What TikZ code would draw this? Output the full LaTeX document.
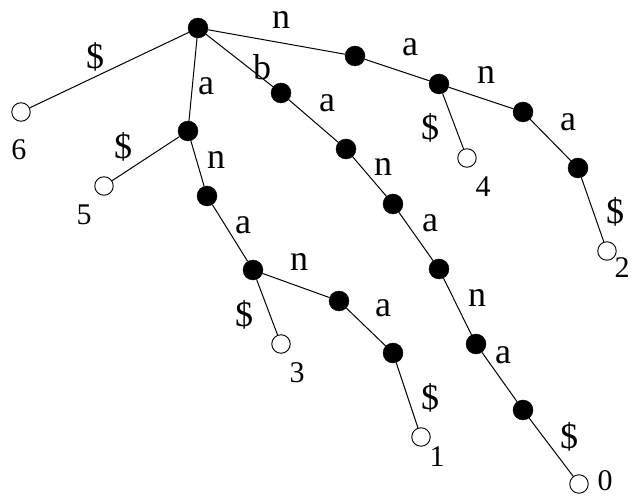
\documentclass[tikz,border=0pt]{standalone}
\usepackage{fontspec}
\setmainfont{Liberation Serif}
\usetikzlibrary{positioning}

\begin{document}
\begin{tikzpicture}[x=1pt, y=-1pt,
  inner/.style={circle, draw, fill=black, minimum size=20pt, inner sep=0pt},
  leaf/.style={circle, draw, fill=white, line width=0.9pt, minimum size=18.5pt, inner sep=0pt},
  edge/.style={line width=1pt},
  sym/.style={font=\fontsize{36}{38}\selectfont, inner sep=0pt},
  idx/.style={font=\fontsize{30}{32}\selectfont, inner sep=0pt},
]
\useasboundingbox (0,0) rectangle (633,497);

% trie nodes
\node[inner] (root) at (198,28) {};
\node[leaf] (l6) at (21,112) {};
\node[inner] (n) at (355,56) {};
\node[inner] (na) at (439,84) {};
\node[inner] (nan) at (523,112) {};
\node[inner] (nana) at (578,168) {};
\node[leaf] (l2) at (607,251) {};
\node[leaf] (l4) at (467,158) {};
\node[inner] (a) at (188,131) {};
\node[leaf] (l5) at (104,186) {};
\node[inner] (an) at (207,196) {};
\node[inner] (ana) at (253,270) {};
\node[inner] (anan) at (339,301) {};
\node[inner] (anana) at (393,353) {};
\node[leaf] (l1) at (421,437) {};
\node[leaf] (l3) at (281,344) {};
\node[inner] (b) at (281,93) {};
\node[inner] (ba) at (346,149) {};
\node[inner] (ban) at (393,204) {};
\node[inner] (bana) at (439,269) {};
\node[inner] (banan) at (476,344) {};
\node[inner] (banana) at (523,410) {};
\node[leaf] (l0) at (579,484) {};

% edges
\draw[edge] (root) -- (l6);
\draw[edge] (root) -- (n);
\draw[edge] (n) -- (na);
\draw[edge] (na) -- (nan);
\draw[edge] (nan) -- (nana);
\draw[edge] (nana) -- (l2);
\draw[edge] (na) -- (l4);
\draw[edge] (root) -- (a);
\draw[edge] (a) -- (l5);
\draw[edge] (a) -- (an);
\draw[edge] (an) -- (ana);
\draw[edge] (ana) -- (anan);
\draw[edge] (anan) -- (anana);
\draw[edge] (anana) -- (l1);
\draw[edge] (ana) -- (l3);
\draw[edge] (root) -- (b);
\draw[edge] (b) -- (ba);
\draw[edge] (ba) -- (ban);
\draw[edge] (ban) -- (bana);
\draw[edge] (bana) -- (banan);
\draw[edge] (banan) -- (banana);
\draw[edge] (banana) -- (l0);

% edge letters
\node[sym] (s6) at (95,57) {\$};
\node[sym] (sn) at (281,20) {n};
\node[sym] (sna) at (410,47) {a};
\node[sym] (snan) at (486,75) {n};
\node[sym] (snana) at (568,122) {a};
\node[sym] (s2) at (615,212) {\$};
\node[sym] (s4) at (430,128) {\$};
\node[sym] (sa) at (206,86) {a};
\node[sym] (s5) at (123,147) {\$};
\node[sym] (san) at (216,160) {n};
\node[sym] (sana) at (243,225) {a};
\node[sym] (sanan) at (299,262) {n};
\node[sym] (sanana) at (383,308) {a};
\node[sym] (s1) at (430,398) {\$};
\node[sym] (s3) at (244,315) {\$};
\node[sym] (sb) at (262,67) {b};
\node[sym] (sba) at (327,103) {a};
\node[sym] (sban) at (383,167) {n};
\node[sym] (sbana) at (430,223) {a};
\node[sym] (sbanan) at (477,298) {n};
\node[sym] (sbanana) at (503,355) {a};
\node[sym] (s0) at (569,437) {\$};

% suffix numbers
\node[idx] (i6) at (19,150) {6};
\node[idx] (i5) at (84,215) {5};
\node[idx] (i3) at (297,373) {3};
\node[idx] (i1) at (437,457) {1};
\node[idx] (i0) at (605,481) {0};
\node[idx] (i4) at (483,187) {4};
\node[idx] (i2) at (622,268) {2};

\end{tikzpicture}
\end{document}
